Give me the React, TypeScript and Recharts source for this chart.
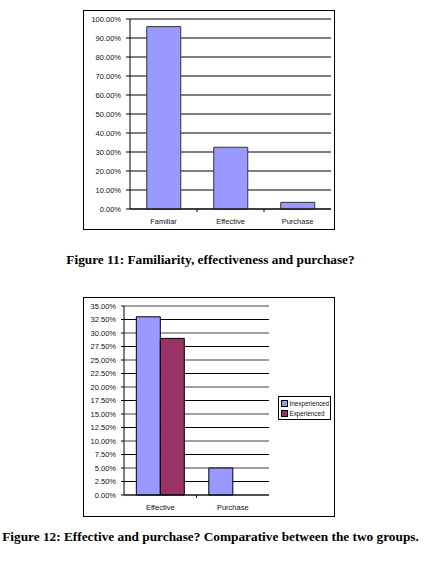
import React from "react";
import {
  BarChart,
  Bar,
  XAxis,
  YAxis,
  CartesianGrid,
} from "recharts";

// Figure 11
const categories11 = ["Familiar", "Effective", "Purchase"];
const values11 = [96, 32.5, 3.5];
const ticks11 = [0, 10, 20, 30, 40, 50, 60, 70, 80, 90, 100];

// Figure 12
const categories12 = ["Effective", "Purchase"];
const inexperienced = [33, 5];
const experienced = [29, 0];
const ticks12 = [0, 2.5, 5, 7.5, 10, 12.5, 15, 17.5, 20, 22.5, 25, 27.5, 30, 32.5, 35];
const series12 = [
  { key: "Inexperienced", color: "#9999ff" },
  { key: "Experienced", color: "#993366" },
];

const captions = [
  "Figure 11: Familiarity, effectiveness and purchase?",
  "Figure 12: Effective and purchase? Comparative between the two groups.",
];

const FONT = "'Liberation Sans', Arial, sans-serif";
const pct = (v: number) => v.toFixed(2) + "%";

const data11 = categories11.map((c, i) => ({ name: c, value: values11[i] }));
const data12 = categories12.map((c, i) => ({
  name: c,
  Inexperienced: inexperienced[i],
  Experienced: experienced[i],
}));

// category label at band centre + tick mark at band boundary (excel style)
function CatTick(props: any) {
  const { x, y, payload, index, visibleTicksCount } = props;
  const off = payload?.offset ?? 0;
  return (
    <g>
      {index < visibleTicksCount - 1 && (
        <line x1={x + off} x2={x + off} y1={y} y2={y + 3} stroke="#000" />
      )}
      <text
        x={x}
        y={y + 14.5}
        textAnchor="middle"
        fontSize={7.5}
        fontFamily={FONT}
        fill="#111"
      >
        {payload.value}
      </text>
    </g>
  );
}

function LegendBox() {
  return (
    <div
      style={{
        position: "absolute",
        left: 194,
        top: 98,
        boxSizing: "border-box",
        width: 53,
        border: "1px solid #000",
        background: "#fff",
        padding: "1px 1px 1px 2px",
        fontFamily: FONT,
        fontSize: 6.3,
        color: "#111",
      }}
    >
      {series12.map((s) => (
        <div key={s.key} style={{ display: "flex", alignItems: "center", height: 10, whiteSpace: "nowrap" }}>
          <span
            style={{
              flexShrink: 0,
              boxSizing: "border-box",
              width: 7,
              height: 7,
              border: "1px solid #000",
              background: s.color,
              marginRight: 1.5,
            }}
          />
          <span>{s.key}</span>
        </div>
      ))}
    </div>
  );
}

const frame: React.CSSProperties = {
  position: "absolute",
  left: 83,
  width: 250,
  height: 218,
  border: "1px solid #000",
  background: "#fff",
};

const caption: React.CSSProperties = {
  position: "absolute",
  left: 0,
  width: 421,
  textAlign: "center",
  fontFamily: "'Liberation Serif', 'Times New Roman', serif",
  fontWeight: "bold",
  fontSize: 13.3,
  color: "#000",
  whiteSpace: "nowrap",
};

export default function App() {
  return (
    <div style={{ position: "absolute", left: 0, top: 0, width: 425, height: 561, background: "#fff" }}>
      <div style={{ ...frame, top: 10 }}>
        <BarChart
          width={250}
          height={218}
          data={data11}
          margin={{ top: 8, right: 3, left: 0, bottom: 0 }}
          barCategoryGap="25%"
        >
          <CartesianGrid vertical={false} stroke="#000" strokeDasharray="" syncWithTicks />
          <XAxis
            dataKey="name"
            height={20}
            axisLine={{ stroke: "#000" }}
            tickLine={false}
            tickSize={0}
            tickMargin={0}
            tick={<CatTick />}
            interval={0}
          />
          <YAxis
            width={46}
            domain={[0, 100]}
            ticks={ticks11}
            tickFormatter={pct}
            axisLine={{ stroke: "#000" }}
            tickLine={{ stroke: "#000" }}
            tickSize={4}
            tickMargin={5}
            tick={{ fontSize: 7.5, fontFamily: FONT, fill: "#111" }}
            interval={0}
          />
          <Bar dataKey="value" fill="#9999ff" stroke="#333" strokeWidth={1} isAnimationActive={false} />
        </BarChart>
      </div>
      <div style={{ ...caption, top: 252 }}>{captions[0]}</div>

      <div style={{ ...frame, top: 297 }}>
        <BarChart
          width={250}
          height={218}
          data={data12}
          margin={{ top: 8, right: 65, left: 0, bottom: 0 }}
          barCategoryGap="17%"
          barGap={0}
        >
          <CartesianGrid
            vertical={false}
            syncWithTicks
            horizontal={(p: any) => (
              <line
                key={p.key}
                x1={p.x1}
                x2={p.x2}
                y1={p.y1}
                y2={p.y2}
                stroke={p.index % 2 === 0 ? "#808080" : "#000"}
                strokeWidth={p.index % 2 === 0 ? 1.6 : 1}
              />
            )}
          />
          <XAxis
            dataKey="name"
            height={21}
            axisLine={{ stroke: "#000" }}
            tickLine={false}
            tickSize={0}
            tickMargin={0}
            tick={<CatTick />}
            interval={0}
          />
          <YAxis
            width={40}
            domain={[0, 35]}
            ticks={ticks12}
            tickFormatter={pct}
            axisLine={{ stroke: "#000" }}
            tickLine={{ stroke: "#000" }}
            tickSize={3}
            tickMargin={5}
            tick={{ fontSize: 7.5, fontFamily: FONT, fill: "#111" }}
            interval={0}
          />
          {series12.map((s) => (
            <Bar key={s.key} dataKey={s.key} fill={s.color} stroke="#000" isAnimationActive={false} />
          ))}
        </BarChart>
        <LegendBox />
      </div>
      <div style={{ ...caption, top: 529 }}>{captions[1]}</div>
    </div>
  );
}
